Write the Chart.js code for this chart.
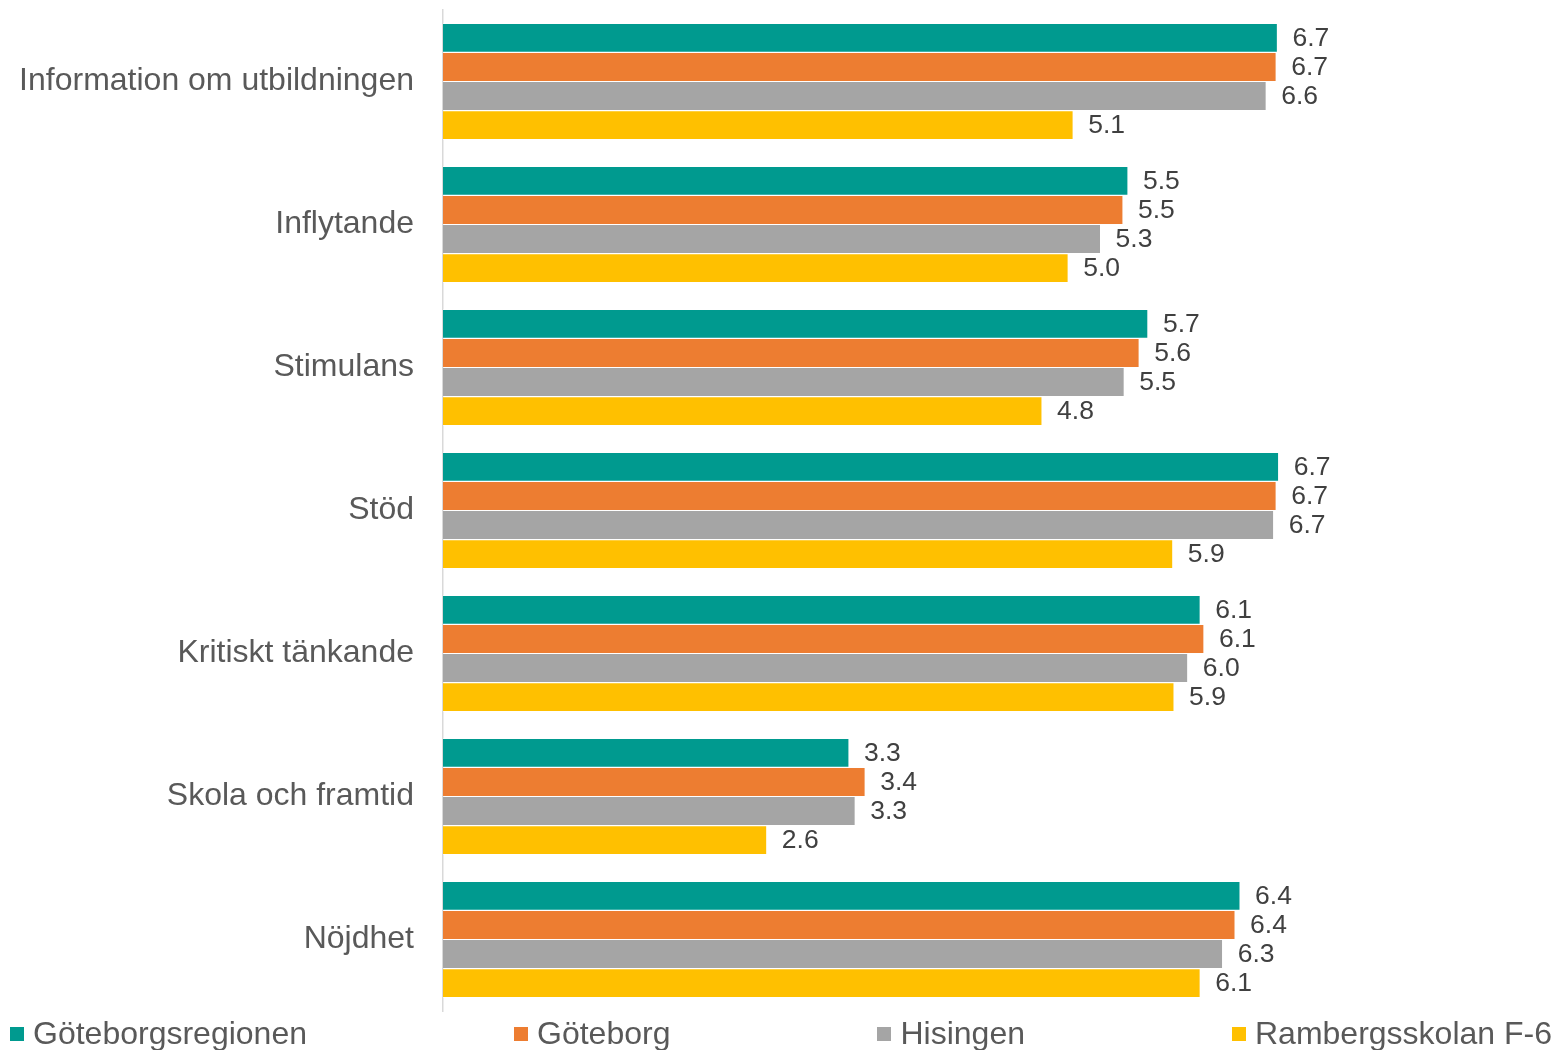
<!DOCTYPE html>
<html>
<head>
<meta charset="utf-8">
<script src="https://cdn.jsdelivr.net/npm/chart.js@4/dist/chart.umd.min.js"></script>
<style>
  html, body { margin: 0; padding: 0; background: #fff; }
  #wrap { position: relative; width: 1559px; height: 1050px; }
  #legend { position: absolute; left: 0; top: 1015px; width: 1559px; height: 36px;
    display: flex; justify-content: space-between; align-items: center;
    box-sizing: border-box; padding: 0 7px 0 10px;
    font-family: "Liberation Sans", Arial, sans-serif; font-size: 32px; color: #595959; }
  .item { display: flex; align-items: center; white-space: nowrap; }
  .box { width: 14px; height: 14px; margin-right: 9px; margin-top: 2px; }
</style>
</head>
<body>
<div id="wrap">
  <canvas id="c" width="1559" height="1050"></canvas>
  <div id="legend"></div>
</div>
<script>
const categories = ["Information om utbildningen", "Inflytande", "Stimulans", "Stöd", "Kritiskt tänkande", "Skola och framtid", "Nöjdhet"];
const seriesNames = ["Göteborgsregionen", "Göteborg", "Hisingen", "Rambergsskolan F-6"];
const seriesColors = ["#009A8F", "#ED7D31", "#A5A5A5", "#FFC000"];
const goteborgsregionen = [6.70, 5.50, 5.66, 6.71, 6.08, 3.26, 6.40];
const goteborg          = [6.69, 5.46, 5.59, 6.69, 6.11, 3.39, 6.36];
const hisingen          = [6.61, 5.28, 5.47, 6.67, 5.98, 3.31, 6.26];
const rambergsskolan    = [5.06, 5.02, 4.81, 5.86, 5.87, 2.60, 6.08];
const seriesValues = [goteborgsregionen, goteborg, hisingen, rambergsskolan];

const valueLabels = {
  id: 'valueLabels',
  afterDatasetsDraw(chart) {
    const ctx = chart.ctx;
    ctx.save();
    ctx.font = '26.5px "Liberation Sans", Arial, sans-serif';
    ctx.fillStyle = '#404040';
    ctx.textAlign = 'left';
    ctx.textBaseline = 'middle';
    chart.data.datasets.forEach((ds, i) => {
      const meta = chart.getDatasetMeta(i);
      meta.data.forEach((bar, j) => {
        ctx.fillText(ds.data[j].toFixed(1), bar.x + 15, bar.y + 1);
      });
    });
    ctx.restore();
  }
};

new Chart(document.getElementById('c'), {
  type: 'bar',
  data: {
    labels: categories,
    datasets: seriesNames.map((n, i) => ({
      label: n,
      data: seriesValues[i],
      backgroundColor: seriesColors[i],
      borderColor: '#ffffff',
      borderWidth: 0.6,
      borderSkipped: 'start',
      categoryPercentage: 0.8137,
      barPercentage: 1.0
    }))
  },
  options: {
    indexAxis: 'y',
    responsive: false,
    animation: false,
    devicePixelRatio: 1,
    layout: { padding: { top: 10, bottom: 39, right: 20, left: 0 } },
    plugins: { legend: { display: false }, tooltip: { enabled: false } },
    scales: {
      x: { display: false, min: 0, max: 8.8 },
      y: {
        grid: { display: false, drawTicks: false },
        border: { display: true, color: '#D9D9D9', width: 1.5 },
        ticks: {
          padding: 29,
          color: '#595959',
          font: { family: '"Liberation Sans", Arial, sans-serif', size: 32 }
        },
        afterFit(scale) {
          scale.width = 443;
          scale.paddingTop = 0;
          scale.paddingBottom = 0;
        }
      }
    }
  },
  plugins: [valueLabels]
});

const legend = document.getElementById('legend');
seriesNames.forEach((n, i) => {
  const it = document.createElement('div');
  it.className = 'item';
  const b = document.createElement('span');
  b.className = 'box';
  b.style.background = seriesColors[i];
  const t = document.createElement('span');
  t.textContent = n;
  it.appendChild(b); it.appendChild(t);
  legend.appendChild(it);
});
</script>
</body>
</html>
